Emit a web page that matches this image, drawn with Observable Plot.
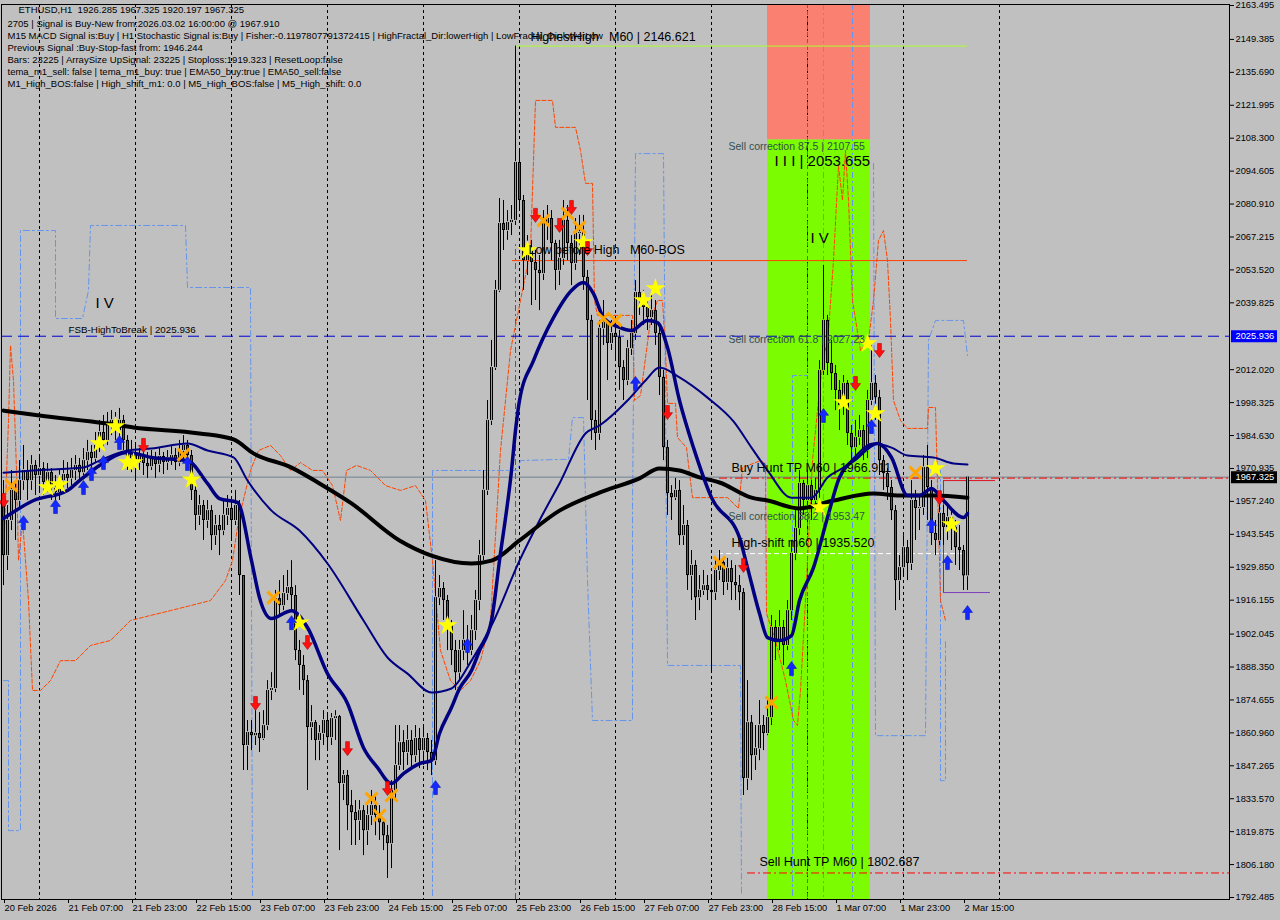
<!DOCTYPE html>
<html><head><meta charset="utf-8">
<script src="https://cdn.jsdelivr.net/npm/d3@7"></script>
<script src="https://cdn.jsdelivr.net/npm/@observablehq/plot@0.6"></script>
<style>html,body{margin:0;padding:0;background:#c0c0c0;overflow:hidden}</style>
</head><body><div id="chart"></div>
<script>
// ---------- time base: H1 bars from 20 Feb 2026 15:00 ----------
const T0 = Date.UTC(2026, 1, 20, 15);
const HOUR = 3600e3;
const at = i => new Date(T0 + i * HOUR);
const months = ["Jan","Feb","Mar","Apr","May","Jun","Jul","Aug","Sep","Oct","Nov","Dec"];

// ---------- candles ----------
const firstOpen = 1957.6;
const closes = [
1934.7,1949.3,1961.8,1957.6,1965.9,1970.1,1965.9,1972.2,1968.0,1970.9,
1965.1,1969.2,1962.6,1960.9,1965.9,1968.4,1966.8,1970.1,1972.2,1969.2,
1974.2,1977.6,1975.1,1980.5,1985.9,1982.6,1988.8,1990.9,1986.7,1990.9,
1982.6,1975.1,1977.6,1973.4,1976.3,1973.0,1971.7,1975.1,1972.6,1975.9,
1973.4,1975.1,1976.3,1973.4,1978.4,1980.5,1976.3,1961.8,1951.4,1955.5,
1949.3,1953.4,1943.0,1947.2,1945.1,1951.4,1954.3,1949.3,1955.5,1926.4,
1855.7,1861.1,1859.8,1860.7,1858.6,1864.0,1878.6,1879.4,1916.8,1913.9,
1918.9,1921.4,1918.1,1895.2,1889.0,1882.7,1863.2,1865.2,1857.8,1860.7,
1866.1,1859.0,1866.9,1867.7,1839.9,1843.2,1830.7,1827.8,1824.5,1828.6,
1820.3,1826.6,1830.7,1826.6,1823.6,1818.2,1814.9,1837.0,1847.4,1856.9,
1852.8,1857.8,1851.5,1858.6,1853.6,1858.6,1852.8,1849.4,1917.2,1921.0,
1916.0,1905.6,1895.2,1886.0,1895.2,1899.4,1895.2,1903.5,1916.0,1934.7,
1961.8,1990.9,2012.9,2045.0,2072.8,2069.9,2073.2,2074.1,2098.2,2082.4,
2057.4,2061.6,2056.6,2053.3,2052.0,2072.8,2074.9,2064.5,2053.3,2058.3,
2074.1,2064.5,2056.2,2068.7,2069.1,2050.4,2032.5,1990.9,1985.5,2029.2,
2031.6,2022.9,2027.1,2025.4,2012.9,2007.5,2020.8,2027.1,2044.1,2040.8,
2037.9,2033.7,2036.6,2027.1,2008.8,1979.6,1960.5,1958.8,1961.8,1943.0,
1947.2,1926.4,1930.6,1917.2,1920.2,1922.2,1920.2,1919.3,1928.5,1931.8,
1923.5,1929.3,1923.5,1922.2,1919.3,1842.0,1865.2,1851.5,1854.4,1864.0,
1860.7,1867.3,1904.8,1899.4,1904.8,1897.3,1911.8,1935.6,1946.0,1964.7,
1957.6,1963.8,1957.6,1961.8,2011.7,2032.5,2014.6,2010.4,2003.4,1997.1,
2006.3,1985.5,1979.6,1983.8,1986.7,1978.4,1999.2,2006.3,2000.4,1974.2,
1968.8,1963.0,1953.4,1924.3,1929.7,1938.0,1931.4,1957.6,1954.3,1954.7,
1971.3,1963.0,1943.9,1941.0,1952.2,1946.4,1950.5,1946.4,1938.0,1936.8,
1926.285,1967.325];
const highs = [
1965.9,1955.5,1970.1,1965.9,1974.2,1980.5,1974.2,1976.3,1974.2,1976.3,
1973.4,1973.0,1970.9,1968.0,1970.1,1974.2,1973.4,1975.1,1976.3,1975.1,
1979.2,1982.6,1980.5,1985.9,1990.9,1993.0,1994.2,1995.0,1994.2,1995.9,
1993.0,1984.6,1982.6,1980.5,1979.2,1978.4,1977.6,1978.4,1977.6,1979.2,
1977.6,1978.4,1980.1,1979.2,1982.6,1984.6,1982.6,1978.4,1963.8,1959.7,
1957.6,1957.6,1955.5,1951.4,1951.4,1957.6,1959.7,1957.6,1961.8,1957.6,
1926.4,1866.1,1866.1,1872.3,1869.4,1870.2,1882.7,1886.0,1920.2,1924.3,
1926.4,1928.5,1932.6,1922.2,1899.4,1893.1,1884.8,1872.3,1866.1,1864.0,
1870.2,1868.2,1869.0,1870.2,1868.2,1845.3,1845.3,1837.0,1832.8,1832.8,
1830.7,1830.7,1837.0,1834.9,1830.7,1825.3,1822.4,1841.1,1864.0,1864.0,
1861.9,1864.0,1861.9,1864.0,1862.8,1863.6,1860.7,1857.8,1932.6,1926.4,
1923.5,1918.1,1907.7,1899.4,1899.4,1911.8,1905.6,1909.8,1920.2,1941.0,
1970.1,1999.2,2024.2,2049.1,2083.2,2082.4,2078.2,2080.3,2146.621,2103.2,
2084.5,2067.8,2065.8,2061.6,2059.5,2078.2,2080.3,2078.2,2065.8,2065.8,
2082.4,2080.3,2067.8,2074.9,2076.2,2076.2,2053.3,2034.6,1995.0,2032.5,
2040.8,2032.5,2032.5,2030.4,2028.3,2015.8,2024.2,2032.5,2049.1,2063.7,
2045.0,2040.8,2042.9,2040.8,2030.4,2011.7,1982.6,1963.8,1966.8,1965.9,
1955.5,1949.3,1936.8,1932.6,1926.4,1928.5,1926.4,1926.4,1932.6,1936.8,
1933.5,1933.5,1932.6,1930.6,1926.4,1921.0,1882.7,1868.2,1864.0,1874.4,
1868.2,1874.4,1909.8,1907.7,1911.8,1907.7,1916.0,1941.0,1953.4,1970.1,
1965.9,1970.1,1965.9,1966.8,2015.8,2055.4,2034.6,2024.2,2013.8,2007.5,
2009.6,2007.5,1988.8,1990.9,1993.0,1988.8,2003.4,2022.1,2009.6,2003.4,
1976.3,1970.9,1965.9,1955.5,1934.7,1943.0,1941.0,1965.9,1961.8,1959.7,
1976.3,1980.5,1965.9,1949.3,1957.6,1955.5,1955.5,1953.4,1949.3,1947.2,
1938.9,1967.325];
const lows = [
1922.2,1928.5,1945.1,1941.0,1953.4,1961.8,1957.6,1961.8,1959.7,1961.8,
1959.7,1960.9,1957.6,1955.5,1957.6,1961.8,1962.6,1963.8,1965.9,1965.1,
1968.0,1970.1,1970.9,1973.4,1977.6,1978.4,1980.5,1984.6,1982.6,1983.4,
1978.4,1970.1,1969.2,1966.8,1970.1,1968.0,1966.8,1970.1,1966.8,1969.2,
1968.4,1970.1,1972.2,1970.1,1971.7,1974.2,1972.2,1957.6,1945.1,1947.2,
1941.0,1946.0,1936.8,1938.9,1934.7,1943.0,1947.2,1941.0,1947.2,1918.1,
1845.3,1845.3,1853.6,1855.7,1852.8,1857.8,1861.9,1874.4,1877.7,1909.8,
1911.8,1916.0,1911.8,1891.0,1878.6,1876.5,1837.0,1857.8,1849.4,1849.4,
1855.7,1853.6,1855.7,1857.8,1812.0,1832.8,1820.3,1814.1,1814.1,1816.2,
1809.9,1814.1,1822.4,1818.2,1816.2,1812.0,1800.4,1804.5,1832.8,1845.3,
1845.3,1847.4,1845.3,1848.6,1846.1,1847.4,1845.3,1843.2,1847.4,1913.9,
1907.7,1895.2,1889.0,1878.6,1882.7,1891.0,1889.0,1893.1,1899.4,1911.8,
1932.6,1959.7,1988.8,2011.7,2044.1,2061.6,2065.8,2067.8,2072.0,2078.2,
2045.0,2051.2,2038.7,2040.8,2036.6,2049.1,2065.8,2057.4,2045.0,2047.0,
2055.4,2057.4,2047.0,2053.3,2059.5,2045.0,1999.2,1982.6,1978.4,1982.6,
2022.1,2007.5,2020.0,2015.8,2003.4,1999.2,2005.4,2017.9,2024.2,2034.6,
2030.4,2028.3,2030.4,2022.1,2001.3,1974.2,1951.4,1949.3,1957.6,1938.9,
1938.9,1920.2,1916.0,1907.7,1911.8,1918.1,1916.0,1886.9,1916.0,1924.3,
1918.1,1920.2,1916.0,1916.0,1911.8,1834.9,1837.0,1841.1,1845.3,1849.4,
1853.6,1859.8,1864.0,1891.0,1895.2,1889.0,1895.2,1907.7,1932.6,1943.0,
1951.4,1955.5,1949.3,1953.4,1957.6,2009.6,2009.6,2003.4,1995.0,1986.7,
1993.0,1980.5,1974.2,1976.3,1980.5,1974.2,1975.1,1997.1,1990.9,1968.0,
1961.8,1957.6,1949.3,1911.8,1916.0,1926.4,1924.3,1928.5,1941.0,1945.1,
1951.4,1949.3,1938.9,1934.7,1938.9,1938.9,1941.0,1936.8,1930.6,1928.5,
1920.2,1920.197];

// ---------- moving averages [bar index, price] ----------
const maSlowBlack = [[0,1995.0],[9,1993.0],[26,1989.6],[32.5,1988.0],[49,1985.5],[57.5,1983.0],[62.5,1977.2],[72,1971.3],[79,1964.7],[87,1956.4],[99,1941.0],[107,1934.7],[117,1931.4],[122,1932.6],[129,1941.0],[139,1953.4],[149,1960.9],[159,1966.8],[164,1970.9],[169,1970.1],[174,1967.2],[179,1965.1],[187,1958.8],[191,1957.6],[199,1954.3],[207.5,1957.6],[217.5,1960.5],[224,1959.7],[232.5,1959.7],[241,1958.8]];
const maFastNavy = [[0,1950.1],[7.5,1957.6],[16,1961.8],[19,1965.9],[24,1972.2],[31,1977.6],[37,1975.5],[46,1974.2],[51,1964.7],[54,1958.4],[58.5,1956.8],[62,1932.6],[64,1917.2],[67,1908.5],[72,1911.8],[76,1904.8],[81,1885.6],[86,1873.2],[90,1854.8],[93.5,1846.5],[97,1839.9],[100,1844.0],[104,1848.2],[107,1849.4],[109,1860.7],[112,1871.5],[114,1879.4],[117,1886.9],[119,1895.2],[122,1907.7],[124,1932.6],[127,1970.1],[128,1986.7],[129,1999.2],[132.5,2015.8],[137.5,2033.7],[142,2045.0],[145,2048.3],[147.5,2043.7],[150,2033.7],[154,2029.6],[157,2028.3],[161,2032.5],[163.5,2031.6],[166,2021.2],[169,1999.2],[172.5,1979.6],[177,1958.8],[184,1942.2],[186,1929.7],[189,1910.6],[191,1900.6],[194,1899.4],[197,1901.4],[199,1916.0],[202.5,1929.7],[206,1950.5],[209,1967.2],[213.5,1975.5],[218.5,1981.3],[222,1975.5],[226,1959.7],[229,1959.7],[232,1962.6],[235,1957.6],[240,1950.5],[241,1952.2]];
const maMidNavy = [[0,1969.2],[7.5,1970.1],[20,1971.3],[24,1974.2],[31,1978.4],[37,1979.2],[46,1981.3],[51,1978.4],[57.5,1975.5],[61,1965.9],[67,1953.4],[74,1945.1],[81,1931.4],[90,1907.7],[96,1892.3],[101,1885.6],[107,1877.7],[112,1879.4],[117,1891.0],[122,1905.6],[129,1932.6],[134,1949.3],[139,1964.7],[145.5,1985.5],[149,1988.8],[156,1999.2],[160.5,2007.5],[164,2012.9],[169,2008.8],[176,2000.4],[182.5,1990.5],[187,1979.6],[191,1970.1],[197,1958.8],[202,1958.8],[206,1967.2],[210,1971.3],[217.5,1981.3],[222,1979.6],[226,1976.3],[232.5,1975.5],[237.5,1973.0],[241,1972.6]];

// ---------- dashed channel indicators [bar index, price] ----------
const orangeBand = [[0,1932.6],[1.25,1990.9],[1.75,2022.1],[2.5,2007.5],[3.25,1970.1],[3.75,1932.6],[4.75,1949.3],[6.25,1916.0],[7.25,1878.6],[9.25,1878.6],[11.75,1882.7],[14.25,1891.0],[18,1891.0],[21.75,1897.3],[26.75,1899.4],[31.75,1907.7],[36.75,1909.8],[41.75,1911.8],[46.75,1913.9],[51.75,1916.0],[55.5,1924.3],[57.25,1932.6],[58.75,1949.3],[60.25,1959.7],[61.75,1970.1],[63.75,1978.4],[66.75,1980.5],[69.25,1976.3],[71.75,1970.1],[74.25,1973.4],[77.25,1970.1],[79.75,1970.1],[82.25,1963.8],[84.25,1949.3],[85.75,1970.1],[88.25,1972.2],[91.75,1970.1],[95.5,1963.8],[99.25,1961.8],[103,1963.8],[105.5,1957.6],[107.25,1932.6],[109.25,1895.2],[111.75,1882.7],[114.25,1878.6],[116.75,1882.7],[119.25,1891.0],[121.75,1907.7],[124.25,1978.4],[126.75,2020.0],[129.25,2040.8],[131.75,2061.6],[133,2124.0],[137.25,2124.0],[138,2112.8],[143,2112.8],[144.25,2103.2],[145.5,2089.5],[147.25,2089.5],[147.75,2040.8],[148.5,2034.6],[157.25,2034.6],[157.75,1999.2],[159.25,2001.3],[161.75,2032.5],[163.5,2040.8],[164.75,2040.8],[165.5,2020.0],[166,1998.0],[168,1998.0],[168.5,1983.8],[170.75,1979.6],[172.25,1958.8],[181,1958.8],[183.75,1954.3],[184.75,1971.3],[189.25,1974.2],[190.5,1973.0],[190.75,1910.6],[193,1899.4],[195.5,1882.7],[197.5,1866.1],[198.5,1864.0],[199.25,1878.6],[200.5,1916.0],[202.25,1974.2],[204.25,2007.5],[206.25,2028.3],[207.5,2057.4],[208.75,2096.9],[209.75,2082.4],[210.5,2103.2],[211.25,2082.4],[212.25,2040.8],[214.25,2020.0],[216.25,2024.2],[217.5,2040.8],[218.75,2065.8],[220,2069.9],[221,2057.4],[221.75,2032.5],[222.5,1999.2],[224.25,1990.9],[226,1987.6],[231,1987.6],[231.25,1996.3],[233,1996.3],[234.25,1916.0],[235.5,1907.7]];
const blueStep1 = [[0,1882.7],[1.25,1882.7],[1.25,1820.3],[4.25,1820.3],[4.25,2069.9],[13,2069.9],[13,2033.3],[19.75,2033.3],[21.25,2045.0],[21.75,2072.0],[45.5,2072.0],[46,2046.2],[61.75,2046.2],[62.25,1793.3]];
const blueStep2 = [[107.25,1793.3],[107.25,1970.1],[128.5,1970.1],[129.25,1974.2],[139.25,1974.7],[141.25,1974.7],[142.25,1992.1],[145,1992.1],[146,1924.3],[147.25,1866.1],[157.25,1866.1],[157.25,1954.7],[158,2101.9],[165,2101.9],[166,1889.0],[184.25,1889.0],[184.5,1793.3]];
const blueStep3 = [[197.25,1793.3],[197.25,2009.6],[201,2009.6]];
const blueStep4 = [[217.5,2097.8],[218,1859.8],[230.5,1859.8],[231.25,2024.2],[233,2032.5],[240,2032.5],[241,2017.9]];
const blueStep5 = [[234.25,1970.1],[234.25,1841.1],[235.5,1841.1],[235.5,1899.4]];
const blueVerticals = [205, 212.25];

// ---------- levels ----------
const fsbHigh = 2025.936, bid = 1967.325;
const buyHuntTP = 1966.911, sellHuntTP = 1802.687, highShift = 1935.520;
const highestHigh = 2146.621, lowBeforeHigh = 2057.4;
const sellCorr875 = 2107.55, stopLoss = 1919.323, buyStop = 1965.9;
const zoneStart = 191, zoneEnd = 216.75;

// ---------- signal markers [bar index, price] ----------
const buyArrows = [[5,1948.4],[13,1955.1],[20,1963.0],[22,1968.8],[25,1973.4],[29,1981.7],[46,1973.0],[72,1906.8],[108,1838.2],[116,1897.3],[158,2006.3],[197,1887.7],[205,1993.0],[217,1988.4],[232,1947.2],[236,1931.8],[241,1911.0]];
const sellArrows = [[0,1957.6],[35,1980.5],[63,1873.2],[76,1898.5],[86,1854.4],[96,1837.8],[133,2076.2],[139,2072.0],[142,2079.5],[146,2062.4],[166,1994.2],[185,1930.6],[213,2006.3],[219,2020.0],[234,1958.8]];
const crossMarks = [[2,1963.8],[45,1976.7],[67.5,1917.2],[92,1833.6],[94,1826.6],[97,1834.9],[135,2074.1],[141,2077.0],[144,2071.2],[150,2033.3],[153,2032.5],[179,1931.8],[192,1873.6],[228,1969.2]];
const starMarks = [[11,1963.0],[14,1964.3],[24,1981.3],[28,1988.4],[31,1973.4],[32.5,1973.4],[47,1966.3],[74,1906.8],[111,1905.6],[131,2061.6],[145,2064.9],[160,2040.8],[163,2045.8],[204,1954.7],[210,1998.4],[216,2022.9],[218,1993.8],[233,1970.9],[237,1947.6]];

// ---------- axis ticks ----------
const yTicks = [2163.495,2149.385,2135.690,2121.995,2108.300,2094.605,2080.910,2067.215,2053.520,2039.825,2012.020,1998.325,1984.630,1970.935,1957.240,1943.545,1929.850,1916.155,1902.045,1888.350,1874.655,1860.960,1847.265,1833.570,1819.875,1806.180,1792.485];
const xTickBars = [0,16,32,48,64,80,96,112,128,144,160,176,192,208,224,240];
const daySeparators = [9,33,57,81,105,129,153,177,201,225,249];

// ---------- texts ----------
const infoTitle = "ETHUSD,H1  1926.285 1967.325 1920.197 1967.325";
const infoLines = [
  "2705 | Signal is Buy-New from:2026.03.02 16:00:00 @ 1967.910",
  "M15 MACD Signal is:Buy | H1 Stochastic Signal is:Buy | Fisher:-0.1197807791372415 | HighFractal_Dir:lowerHigh | LowFractal_Dir:lowerLow",
  "Previous Signal :Buy-Stop-fast from: 1946.244",
  "Bars: 23225 | ArraySize UpSignal: 23225 | Stoploss:1919.323 | ResetLoop:false",
  "tema_m1_sell: false | tema_m1_buy: true | EMA50_buy:true | EMA50_sell:false",
  "M1_High_BOS:false | High_shift_m1: 0.0 | M5_High_BOS:false | M5_High_shift: 0.0"
];
const levelLabels = [
  {i:131.75, p:2150.6, t:"HighestHigh   M60 | 2146.621"},
  {i:131.25, p:2061.6, t:"Low before High   M60-BOS"},
  {i:182,    p:1971.3, t:"Buy Hunt TP M60 | 1966.911"},
  {i:182,    p:1940.1, t:"High-shift m60 | 1935.520"},
  {i:189,    p:1807.4, t:"Sell Hunt TP M60 | 1802.687"}
];
const corrLabels = [
  {i:181.25, p:2104.9, t:"Sell correction 87.5 | 2107.55"},
  {i:181.25, p:2024.6, t:"Sell correction 61.8 | 2027.23"},
  {i:181.25, p:1950.9, t:"Sell correction 38.2 | 1953.47"}
];
const waveLabels = [
  {i:192.75, p:2098.6, t:"I I I | 2053.655"},
  {i:201.75, p:2066.6, t:"I V"},
  {i:23,     p:2039.6, t:"I V"}
];
const fsbLabel = [{i:16.25, p:2028.7, t:"FSB-HighToBreak | 2025.936"}];

// ---------- build ----------
const bars = closes.map((c, i) => {
  const o = i ? closes[i - 1] : firstOpen;
  return {t: at(i), o, h: highs[i], l: lows[i], c, up: c >= o};
});
const pts = a => a.map(([i, p]) => ({t: at(i), p}));

const arrowUp = {draw(ctx, size) {
  const r = Math.sqrt(size / Math.PI), hw = r * 0.72, sw = r * 0.27, b = -r * 0.02;
  ctx.moveTo(0, -r); ctx.lineTo(hw, b); ctx.lineTo(sw, b); ctx.lineTo(sw, r);
  ctx.lineTo(-sw, r); ctx.lineTo(-sw, b); ctx.lineTo(-hw, b); ctx.closePath();
}};
const arrowDown = {draw(ctx, size) {
  const r = Math.sqrt(size / Math.PI), hw = r * 0.72, sw = r * 0.27, b = r * 0.02;
  ctx.moveTo(0, r); ctx.lineTo(hw, b); ctx.lineTo(sw, b); ctx.lineTo(sw, -r);
  ctx.lineTo(-sw, -r); ctx.lineTo(-sw, b); ctx.lineTo(-hw, b); ctx.closePath();
}};

const yMin = 1791.653, yMax = 2163.911;
const fmtX = d => {
  if (+d === T0) return "20 Feb 2026";
  const hh = String(d.getUTCHours()).padStart(2, "0");
  return `${d.getUTCDate()} ${months[d.getUTCMonth()]} ${hh}:00`;
};
const blueDash = {x: "t", y: "p", stroke: "#6495ed", strokeWidth: 1, strokeDasharray: "6,3,2,3", curve: "linear"};

const chart = Plot.plot({
  width: 1280, height: 920,
  marginLeft: 1, marginRight: 51, marginTop: 4, marginBottom: 21,
  x: {type: "utc", domain: [at(-0.5), at(306.5)]},
  y: {domain: [yMin, yMax]},
  style: {background: "#c0c0c0", fontFamily: "'Liberation Sans', Arial, sans-serif", color: "black", overflow: "visible"},
  marks: [
    // zones
    Plot.rect([{a: at(zoneStart), b: at(zoneEnd), y1: sellCorr875, y2: yMax}], {x1: "a", x2: "b", y1: "y1", y2: "y2", fill: "#fa8072"}),
    Plot.rect([{a: at(zoneStart), b: at(zoneEnd), y1: yMin, y2: sellCorr875}], {x1: "a", x2: "b", y1: "y1", y2: "y2", fill: "#7cfc00"}),
    // day separators
    Plot.ruleX(daySeparators.map(at), {stroke: "black", strokeDasharray: "3,3"}),
    Plot.ruleX([at(201)], {stroke: "#7a4fb5", strokeDasharray: "4,3"}),
    Plot.ruleX([at(128)], {y1: yMin, y2: 2064, stroke: "#c71585", strokeDasharray: "6,3,2,3"}),
    // dashed indicator channels
    Plot.line(pts(blueStep1), blueDash),
    Plot.line(pts(blueStep2), blueDash),
    Plot.line(pts(blueStep3), blueDash),
    Plot.line(pts(blueStep4), blueDash),
    Plot.line(pts(blueStep5), blueDash),
    Plot.ruleX(blueVerticals.map(at), {stroke: "#6495ed", strokeDasharray: "6,3,2,3"}),
    Plot.line(pts(orangeBand), {x: "t", y: "p", stroke: "#ff4500", strokeWidth: 1, strokeDasharray: "4,2"}),
    // horizontal levels
    Plot.ruleY([fsbHigh], {stroke: "#0000cd", strokeDasharray: "11,6"}),
    Plot.ruleY([bid], {stroke: "#708090"}),
    Plot.ruleY([highestHigh], {x1: () => at(128), x2: () => at(241), stroke: "#adff2f"}),
    Plot.ruleY([lowBeforeHigh], {x1: () => at(127.25), x2: () => at(241), stroke: "#ff4000"}),
    Plot.ruleY([buyHuntTP], {x1: () => at(179), x2: () => at(306.5), stroke: "#ff0000", strokeDasharray: "8,3,2,3"}),
    Plot.ruleY([sellHuntTP], {x1: () => at(186), x2: () => at(306.5), stroke: "#ff0000", strokeDasharray: "8,3,2,3"}),
    Plot.ruleY([highShift], {x1: () => at(178.75), x2: () => at(241), stroke: "white", strokeDasharray: "5,3"}),
    Plot.ruleY([buyStop], {x1: () => at(235), x2: () => at(248), stroke: "#e01020"}),
    Plot.ruleY([stopLoss], {x1: () => at(235), x2: () => at(246.75), stroke: "#7b3fbf"}),
    Plot.ruleX([at(235)], {y1: stopLoss, y2: buyStop, stroke: "#e01020"}),
    // candles
    Plot.ruleX(bars, {x: "t", y1: "l", y2: "h", stroke: "black"}),
    Plot.ruleX(bars, {x: "t", y1: "o", y2: "c", stroke: "black", strokeWidth: 3}),
    Plot.ruleX(bars, {x: "t", y1: "o", y2: "c", stroke: d => d.up ? "#3cd38a" : "#c8283c", insetTop: 1, insetBottom: 1}),
    // moving averages
    Plot.line(pts(maMidNavy), {x: "t", y: "p", stroke: "#000080", strokeWidth: 2, curve: "monotone-x"}),
    Plot.line(pts(maSlowBlack), {x: "t", y: "p", stroke: "black", strokeWidth: 4, curve: "monotone-x"}),
    Plot.line(pts(maFastNavy), {x: "t", y: "p", stroke: "#000080", strokeWidth: 3.5, curve: "monotone-x"}),
    // signals
    Plot.dot(pts(crossMarks), {x: "t", y: "p", symbol: "times", r: 5.5, stroke: "#ffa500", strokeWidth: 3}),
    Plot.dot(pts(starMarks), {x: "t", y: "p", symbol: "star", r: 6.2, fill: "#ffff00", stroke: "none"}),
    Plot.dot(pts(buyArrows), {x: "t", y: "p", symbol: arrowUp, r: 7, fill: "#1428ff", stroke: "#0a16b0", strokeWidth: 0.6}),
    Plot.dot(pts(sellArrows), {x: "t", y: "p", symbol: arrowDown, r: 7, fill: "#ff1010", stroke: "#b00000", strokeWidth: 0.6}),
    // labels
    Plot.text(levelLabels, {x: d => at(d.i), y: "p", text: "t", textAnchor: "start", fontSize: 12.5, fill: "black"}),
    Plot.text(corrLabels, {x: d => at(d.i), y: "p", text: "t", textAnchor: "start", fontSize: 10.5, fill: "#2f4f4f"}),
    Plot.text(waveLabels, {x: d => at(d.i), y: "p", text: "t", textAnchor: "start", fontSize: 15, fill: "black"}),
    Plot.text(fsbLabel, {x: d => at(d.i), y: "p", text: "t", textAnchor: "start", fontSize: 9.8, fill: "black"}),
    Plot.text([infoTitle], {frameAnchor: "top-left", dx: 17, dy: 1.5, lineAnchor: "top", textAnchor: "start", fontSize: 9.5, fill: "black"}),
    Plot.text([infoLines.join("\n")], {frameAnchor: "top-left", dx: 6, dy: 14, lineAnchor: "top", textAnchor: "start", fontSize: 9.5, lineHeight: 1.27, fill: "black"}),
    // price boxes on the axis
    Plot.ruleY([fsbHigh], {x1: () => at(307), x2: () => at(318.5), stroke: "#0000ff", strokeWidth: 12}),
    Plot.ruleY([bid], {x1: () => at(307), x2: () => at(318.5), stroke: "black", strokeWidth: 12}),
    Plot.text([fsbHigh], {x: () => at(308), y: d => d, text: d => d.toFixed(3), textAnchor: "start", fontSize: 9.3, fill: "white"}),
    Plot.text([bid], {x: () => at(308), y: d => d, text: d => d.toFixed(3), textAnchor: "start", fontSize: 9.3, fill: "white"}),
    // axes + frame
    Plot.axisY(yTicks, {anchor: "right", tickSize: 4, tickPadding: 2, tickFormat: d => d.toFixed(3), fontSize: 9.3, label: null}),
    Plot.axisX(xTickBars.map(at), {anchor: "bottom", tickSize: 4, tickPadding: 1, tickFormat: fmtX, textAnchor: "start", dx: 1, fontSize: 9.3, label: null}),
    Plot.frame({stroke: "black"})
  ]
});
document.getElementById("chart").appendChild(chart);
</script>
</body></html>
